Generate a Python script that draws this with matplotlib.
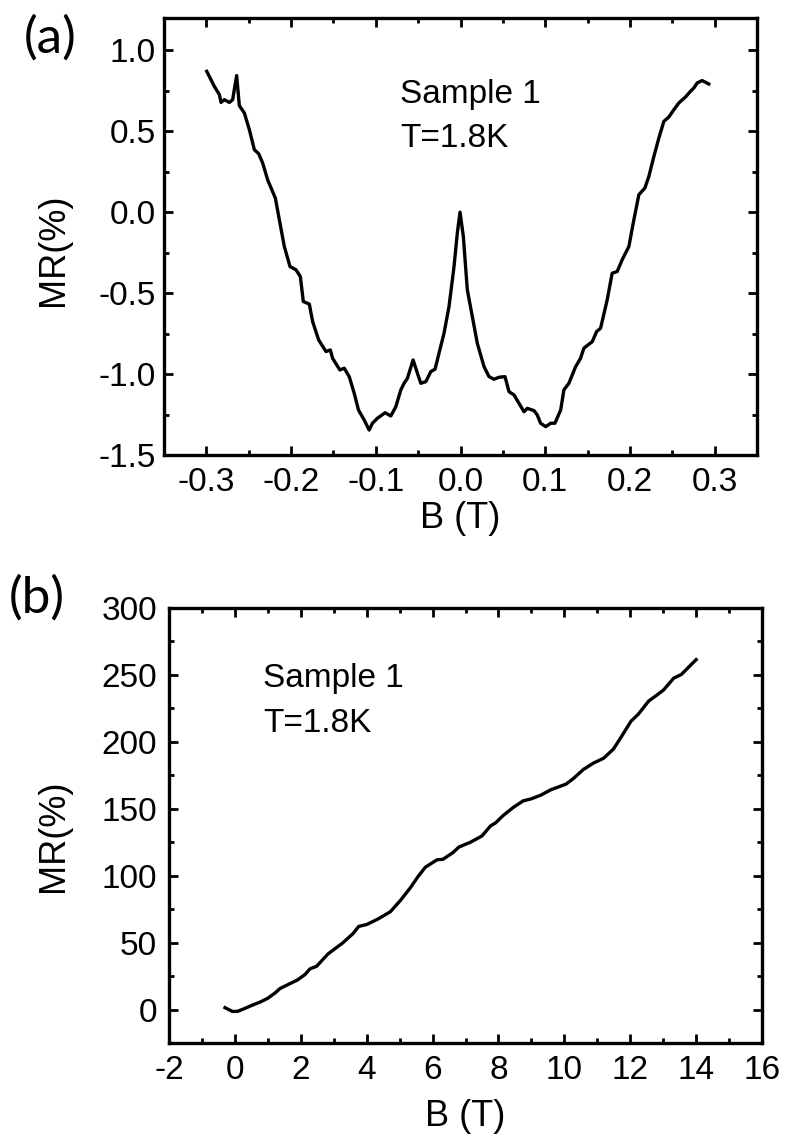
import matplotlib
matplotlib.use('Agg')
import matplotlib.pyplot as plt
from matplotlib.ticker import MultipleLocator, FormatStrFormatter

# ---- Panel (a): low-field MR ----
b_low = [-0.2996, -0.2906, -0.2847, -0.2827, -0.2788, -0.2729, -0.2690, -0.2643,
         -0.2611, -0.2552, -0.2493, -0.2434, -0.2383, -0.2336, -0.2277, -0.2186,
         -0.2139, -0.2080, -0.2013, -0.1942, -0.1891, -0.1856, -0.1785, -0.1746,
         -0.1675, -0.1588, -0.1537, -0.1511, -0.1424, -0.1373, -0.1314, -0.1255,
         -0.1205, -0.1137, -0.1079, -0.1040, -0.0981, -0.0890, -0.0823, -0.0764,
         -0.0705, -0.0666, -0.0627, -0.0560, -0.0509, -0.0469, -0.0410, -0.0351,
         -0.0301, -0.0254, -0.0195, -0.0136, -0.0077, -0.0038, -0.0006, 0.0033,
         0.0080, 0.0139, 0.0198, 0.0277, 0.0336, 0.0395, 0.0454, 0.0525,
         0.0572, 0.0631, 0.0690, 0.0749, 0.0788, 0.0867, 0.0906, 0.0945,
         0.1005, 0.1064, 0.1114, 0.1182, 0.1220, 0.1279, 0.1359, 0.1417,
         0.1456, 0.1555, 0.1606, 0.1653, 0.1731, 0.1790, 0.1849, 0.1908,
         0.1987, 0.2046, 0.2105, 0.2176, 0.2223, 0.2282, 0.2341, 0.2400,
         0.2459, 0.2518, 0.2577, 0.2656, 0.2715, 0.2754, 0.2793, 0.2852,
         0.2930]
mr_low = [0.870, 0.777, 0.726, 0.678, 0.695, 0.678, 0.695, 0.844,
          0.658, 0.613, 0.510, 0.386, 0.361, 0.304, 0.200, 0.087,
          -0.047, -0.212, -0.336, -0.356, -0.398, -0.552, -0.568, -0.676,
          -0.789, -0.861, -0.851, -0.902, -0.975, -0.964, -1.016, -1.119,
          -1.222, -1.284, -1.346, -1.304, -1.273, -1.239, -1.259, -1.202,
          -1.098, -1.057, -1.026, -0.913, -0.995, -1.057, -1.047, -0.985,
          -0.970, -0.871, -0.748, -0.583, -0.336, -0.129, 0.000, -0.150,
          -0.480, -0.645, -0.810, -0.954, -1.016, -1.032, -1.020, -1.016,
          -1.109, -1.129, -1.181, -1.233, -1.212, -1.226, -1.253, -1.304,
          -1.325, -1.304, -1.304, -1.222, -1.098, -1.057, -0.954, -0.902,
          -0.840, -0.800, -0.738, -0.717, -0.542, -0.377, -0.367, -0.294,
          -0.212, -0.047, 0.108, 0.149, 0.221, 0.344, 0.458, 0.561,
          0.588, 0.633, 0.675, 0.712, 0.747, 0.767, 0.798, 0.813,
          0.792]

# ---- Panel (b): high-field MR ----
b_high = [-0.30, -0.08, 0.08, 0.30, 0.53, 0.76, 0.99, 1.22, 1.37, 1.60, 1.90,
          2.13, 2.28, 2.48, 2.82, 3.04, 3.27, 3.58, 3.76, 4.00, 4.34, 4.72,
          5.02, 5.33, 5.56, 5.78, 6.13, 6.32, 6.62, 6.80, 7.15, 7.50, 7.76,
          7.91, 8.14, 8.45, 8.75, 8.98, 9.28, 9.59, 10.05, 10.27, 10.58,
          10.88, 11.19, 11.49, 11.72, 12.02, 12.25, 12.56, 12.79, 13.01,
          13.32, 13.55, 14.00]
mr_high = [1.4, -1.4, -1.4, 0.8, 3.3, 5.5, 8.3, 12.4, 15.7, 18.5, 22.1,
           26.2, 30.4, 32.3, 41.4, 45.5, 49.7, 56.6, 62.1, 63.5, 67.6, 73.1,
           81.4, 91.1, 99.4, 106.3, 111.8, 112.3, 117.3, 121.4, 125.0, 129.7,
           137.2, 139.4, 144.9, 151.0, 155.9, 157.3, 160.1, 164.2, 168.4,
           172.5, 179.4, 184.1, 187.7, 194.6, 203.4, 215.3, 220.8, 230.5,
           234.6, 238.7, 247.6, 250.3, 261.4]

annot_lines = ["Sample 1", "T=1.8K"]
x_label = "B (T)"
y_label = "MR(%)"
panel_labels = ["(a)", "(b)"]

plt.rcParams['font.family'] = ['Liberation Sans', 'DejaVu Sans']
plt.rcParams['axes.unicode_minus'] = False

FS = 24
LFS = 26
fig = plt.figure(figsize=(7.89, 11.42), dpi=100)
ax1 = fig.add_axes([0.2079, 0.6016, 0.7516, 0.3827])
ax2 = fig.add_axes([0.2142, 0.0867, 0.7516, 0.3809])


def style(ax, ypad):
    for s in ax.spines.values():
        s.set_linewidth(2.4)
    ax.tick_params(which='both', direction='in', top=True, right=True,
                   width=2.0, labelsize=FS)
    ax.tick_params(which='major', length=6.5)
    ax.tick_params(which='minor', length=3.5)
    ax.tick_params(axis='y', pad=ypad)
    ax.tick_params(axis='x', pad=9)


ax1.plot(b_low, mr_low, color='black', lw=2.4)
ax1.set_xlim(-0.35, 0.35)
ax1.set_ylim(-1.5, 1.2)
ax1.xaxis.set_major_locator(MultipleLocator(0.1))
ax1.xaxis.set_minor_locator(MultipleLocator(0.05))
ax1.yaxis.set_major_locator(MultipleLocator(0.5))
ax1.yaxis.set_minor_locator(MultipleLocator(0.25))
ax1.xaxis.set_major_formatter(FormatStrFormatter('%.1f'))
ax1.yaxis.set_major_formatter(FormatStrFormatter('%.1f'))
style(ax1, 6.0)
ax1.set_xlabel(x_label, fontsize=LFS)
ax1.set_ylabel(y_label, fontsize=LFS)
ax1.xaxis.set_label_coords(0.5, -0.105)
ax1.yaxis.set_label_coords(-0.157, 0.47)
ax1.text(0.398, 0.8055, annot_lines[0], transform=ax1.transAxes,
         fontsize=FS, va='baseline', ha='left')
ax1.text(0.398, 0.7048, annot_lines[1], transform=ax1.transAxes,
         fontsize=FS, va='baseline', ha='left')

ax2.plot(b_high, mr_high, color='black', lw=2.4)
ax2.set_xlim(-2, 16)
ax2.set_ylim(-25, 300)
ax2.xaxis.set_major_locator(MultipleLocator(2))
ax2.xaxis.set_minor_locator(MultipleLocator(1))
ax2.yaxis.set_major_locator(MultipleLocator(50))
ax2.yaxis.set_minor_locator(MultipleLocator(25))
style(ax2, 8.5)
ax2.set_xlabel(x_label, fontsize=LFS)
ax2.set_ylabel(y_label, fontsize=LFS)
ax2.xaxis.set_label_coords(0.5, -0.128)
ax2.yaxis.set_label_coords(-0.165, 0.476)
ax2.text(0.1585, 0.818, annot_lines[0], transform=ax2.transAxes,
         fontsize=FS, va='baseline', ha='left')
ax2.text(0.1585, 0.716, annot_lines[1], transform=ax2.transAxes,
         fontsize=FS, va='baseline', ha='left')

fig.text(24 / 789, 1 - 38 / 1142, panel_labels[0], fontsize=37,
         family=['Lato', 'DejaVu Sans'], ha='left', va='center')
fig.text(9 / 789, 1 - 598 / 1142, panel_labels[1], fontsize=37,
         family=['Lato', 'DejaVu Sans'], ha='left', va='center')

fig.savefig('out.png', dpi=100)
